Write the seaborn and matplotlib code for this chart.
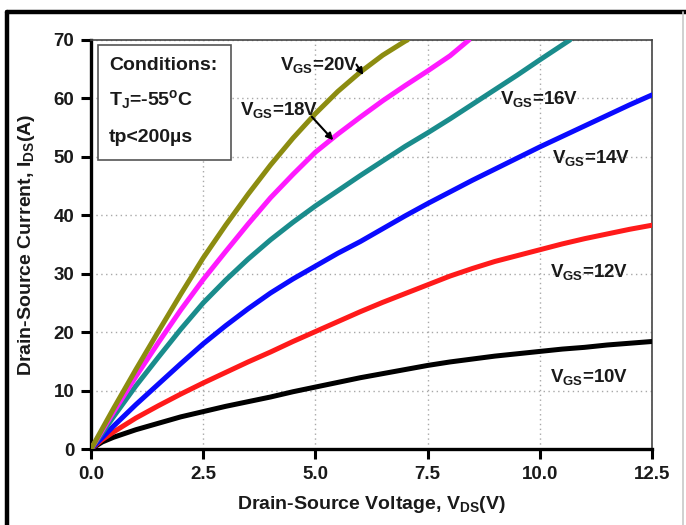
import numpy as np
import pandas as pd
import matplotlib
matplotlib.use("Agg")
import matplotlib.pyplot as plt
from matplotlib.lines import Line2D
from matplotlib.patches import Rectangle
import seaborn as sns

# ---- data ----
vds_10 = [0, 0.25, 0.5, 1, 1.5, 2, 2.5, 3, 3.5, 4, 4.5, 5, 5.5, 6, 6.5, 7, 7.5, 8, 8.5, 9, 9.5, 10, 10.5, 11, 11.5, 12, 12.5]
ids_10 = [0, 1.2, 2.0, 3.3, 4.4, 5.5, 6.4, 7.3, 8.1, 8.9, 9.8, 10.6, 11.4, 12.2, 12.9, 13.6, 14.3, 14.9, 15.4, 15.9, 16.3, 16.7, 17.1, 17.4, 17.8, 18.1, 18.4]

vds_12 = [0, 0.25, 0.5, 1, 1.5, 2, 2.5, 3, 3.5, 4, 4.5, 5, 5.5, 6, 6.5, 7, 7.5, 8, 8.5, 9, 9.5, 10, 10.5, 11, 11.5, 12, 12.5]
ids_12 = [0, 1.6, 2.9, 5.3, 7.4, 9.4, 11.3, 13.1, 14.9, 16.6, 18.4, 20.1, 21.8, 23.5, 25.1, 26.6, 28.1, 29.6, 30.9, 32.1, 33.1, 34.1, 35.1, 36.0, 36.8, 37.6, 38.3]

vds_14 = [0, 0.5, 1, 1.5, 2, 2.5, 3, 3.5, 4, 4.5, 5, 5.5, 6, 6.5, 7, 7.5, 8, 8.5, 9, 9.5, 10, 10.5, 11, 11.5, 12, 12.5]
ids_14 = [0, 3.9, 7.6, 11.1, 14.6, 18.0, 21.1, 24.0, 26.7, 29.1, 31.3, 33.5, 35.5, 37.7, 39.9, 42.0, 44.0, 46.0, 47.9, 49.8, 51.7, 53.5, 55.3, 57.1, 58.9, 60.6]

vds_16 = [0, 0.5, 1, 1.5, 2, 2.5, 3, 3.5, 4, 4.5, 5, 5.5, 6, 6.5, 7, 7.5, 8, 8.5, 9, 9.5, 10, 10.67]
ids_16 = [0, 5.5, 10.8, 15.7, 20.5, 25.0, 28.9, 32.5, 35.8, 38.8, 41.6, 44.2, 46.8, 49.3, 51.8, 54.1, 56.5, 59.0, 61.5, 64.0, 66.6, 70.0]

vds_18 = [0, 0.5, 1, 1.5, 2, 2.5, 3, 3.5, 4, 4.5, 5, 5.5, 6, 6.5, 7, 7.5, 8, 8.42]
ids_18 = [0, 6.3, 12.4, 18.2, 23.8, 29.0, 33.8, 38.5, 43.0, 47.0, 50.8, 53.9, 56.8, 59.6, 62.2, 64.7, 67.3, 70.0]

vds_20 = [0, 0.5, 1, 1.5, 2, 2.5, 3, 3.5, 4, 4.5, 5, 5.5, 6, 6.5, 7, 7.05]
ids_20 = [0, 6.9, 13.6, 20.1, 26.5, 32.7, 38.3, 43.6, 48.6, 53.2, 57.4, 61.2, 64.5, 67.4, 69.8, 70.0]

vgs_labels = ["10V", "12V", "14V", "16V", "18V", "20V"]
x_ticks = [0.0, 2.5, 5.0, 7.5, 10.0, 12.5]
y_ticks = [0, 10, 20, 30, 40, 50, 60, 70]

series = [(vds_10, ids_10), (vds_12, ids_12), (vds_14, ids_14),
          (vds_16, ids_16), (vds_18, ids_18), (vds_20, ids_20)]
frames = []
for lab, (vx, iy) in zip(vgs_labels, series):
    frames.append(pd.DataFrame({"VDS": vx, "IDS": iy, "VGS": lab}))
df = pd.concat(frames, ignore_index=True)

colors = ["#000000", "#ff1a1a", "#0a0aff", "#1a8c8c", "#ff1aff", "#8c8c10"]

# ---- style ----
sns.set_theme(style="white")
plt.rcParams["font.family"] = ["Liberation Sans", "DejaVu Sans"]
plt.rcParams["font.weight"] = "bold"
plt.rcParams["mathtext.default"] = "regular"

W, H = 686, 525
fig = plt.figure(figsize=(W / 100, H / 100), dpi=100)
ax = fig.add_axes([91 / W, (H - 449) / H, 561 / W, 409 / H])

sns.lineplot(data=df, x="VDS", y="IDS", hue="VGS", palette=colors,
             linewidth=3.6, legend=False, sort=False, estimator=None, ax=ax,
             zorder=3)

ax.set_xlim(0, 12.5)
ax.set_ylim(0, 70)
ax.set_xticks(x_ticks)
ax.set_xticklabels([f"{t:.1f}" for t in x_ticks])
ax.set_yticks(y_ticks)
ax.set_yticklabels([str(t) for t in y_ticks])
ax.tick_params(axis="both", which="major", direction="out", length=7,
               width=2.2, color="black", labelsize=13.5, pad=5,
               bottom=True, left=True)
for lab in ax.get_xticklabels() + ax.get_yticklabels():
    lab.set_fontweight("bold")
    lab.set_color("#1a1a1a")

ax.grid(True, linestyle=(0, (1, 2.5)), color="#a8a8a8", linewidth=1.0)
ax.set_axisbelow(True)

ax.spines["left"].set_linewidth(2.4)
ax.spines["bottom"].set_linewidth(2.4)
ax.spines["left"].set_color("black")
ax.spines["bottom"].set_color("black")
ax.spines["top"].set_linewidth(1.2)
ax.spines["right"].set_linewidth(1.2)
ax.spines["top"].set_color("#444444")
ax.spines["right"].set_color("#444444")
for s in ax.spines.values():
    s.set_visible(True)

ax.set_xlabel(r"Drain-Source Voltage, V$_{DS}$(V)", fontsize=14,
              fontweight="bold", labelpad=8, color="#1a1a1a")
ax.set_ylabel(r"Drain-Source Current, I$_{DS}$(A)", fontsize=14,
              fontweight="bold", labelpad=12, color="#1a1a1a")

# ---- conditions box ----
ax.add_patch(Rectangle((0.156, 49.5), 3.12 - 0.156, 69.1 - 49.5,
                       facecolor="white", edgecolor="#555555",
                       linewidth=1.2, zorder=4))
ax.text(0.40, 64.9, "Conditions:", fontsize=14, fontweight="bold",
        va="baseline", ha="left", zorder=5, color="#1a1a1a")
ax.text(0.40, 58.9, r"T$_{J}$=-55$^{o}$C", fontsize=14, fontweight="bold",
        va="baseline", ha="left", zorder=5, color="#1a1a1a")
ax.text(0.40, 52.5, "tp<200µs", fontsize=14, fontweight="bold",
        va="baseline", ha="left", zorder=5, color="#1a1a1a")

# ---- curve labels ----
label_pos = {"20V": (4.21, 64.9), "18V": (3.32, 57.2), "16V": (9.11, 59.0),
             "14V": (10.27, 48.9), "12V": (10.23, 29.4), "10V": (10.23, 11.5)}
for lab in vgs_labels:
    x0, y0 = label_pos[lab]
    ax.text(x0, y0, r"V$_{GS}$=" + lab, fontsize=13.5, fontweight="bold",
            va="baseline", ha="left", zorder=5, color="#1a1a1a")

ax.annotate("", xy=(6.10, 63.6), xytext=(5.88, 66.2),
            arrowprops=dict(arrowstyle="-|>", color="black", lw=1.5,
                            mutation_scale=10), zorder=6)
ax.annotate("", xy=(5.44, 52.5), xytext=(4.88, 57.2),
            arrowprops=dict(arrowstyle="-|>", color="black", lw=1.5,
                            mutation_scale=10), zorder=6)

# ---- outer frame ----
def fig_line(x0, y0, x1, y1, color, lw):
    fig.add_artist(Line2D([x0 / W, x1 / W], [1 - y0 / H, 1 - y1 / H],
                          transform=fig.transFigure, color=color, lw=lw))

fig_line(7, 12, 7, 530, "black", 3.2)
fig_line(7, 12, 686, 12, "black", 3.2)
fig_line(683, 12, 683, 530, "#c8c8c8", 1.2)

fig.savefig("out.png", dpi=100)
